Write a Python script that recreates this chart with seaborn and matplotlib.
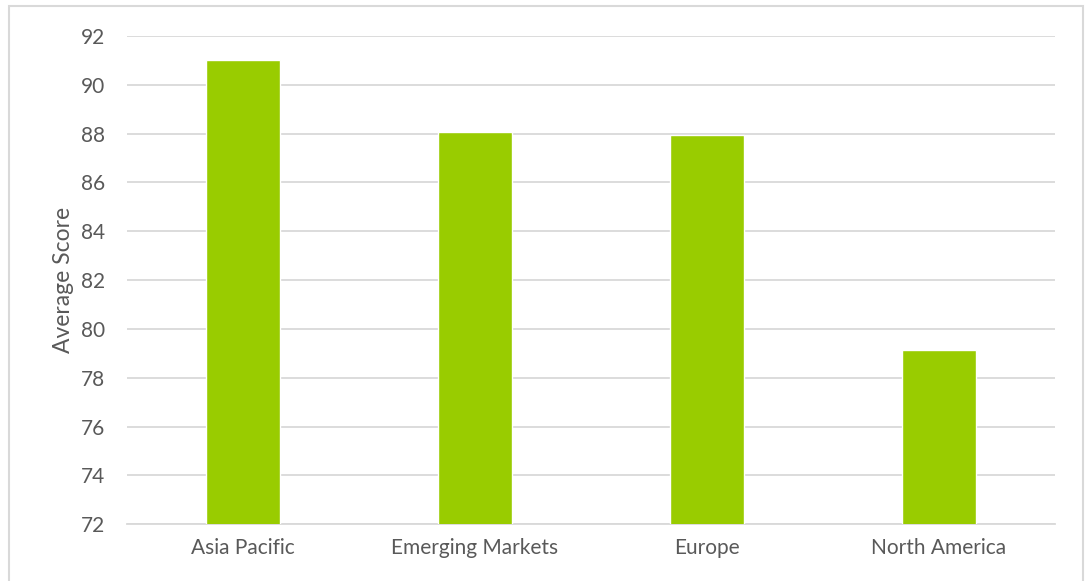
import matplotlib
matplotlib.use("Agg")
import matplotlib.pyplot as plt
from matplotlib.patches import Rectangle
import seaborn as sns
import pandas as pd

regions = ["Asia Pacific", "Emerging Markets", "Europe", "North America"]
avg_scores = [91.03, 88.07, 87.95, 79.14]
y_ticks = [72, 74, 76, 78, 80, 82, 84, 86, 88, 90, 92]

sns.set_theme(style="white")
plt.rcParams["font.family"] = ["Lato", "DejaVu Sans"]

df = pd.DataFrame({"Region": regions, "Average Score": avg_scores})

fig = plt.figure(figsize=(10.85, 5.81), dpi=100)
ax = fig.add_axes([127 / 1085, 1 - 524.3 / 581, 928 / 1085, (524.3 - 36) / 581])

sns.barplot(data=df, x="Region", y="Average Score", color="#99CC00",
            saturation=1, width=0.315, ax=ax, zorder=3)

ax.set_ylim(72, 92)
ax.set_yticks(y_ticks)
ax.set_xlim(-0.5, len(regions) - 0.5)
ax.yaxis.grid(True, color="#d9d9d9", linewidth=1.3, zorder=0)
ax.set_axisbelow(True)
for side in ["top", "right", "left"]:
    ax.spines[side].set_visible(False)
ax.spines["bottom"].set_color("#d9d9d9")
ax.spines["bottom"].set_linewidth(1.3)

text_color = "#595959"
ax.tick_params(axis="both", length=0, labelsize=15, labelcolor=text_color)
ax.tick_params(axis="y", pad=16)
ax.tick_params(axis="x", pad=10)
ax.set_xlabel("")
ax.set_ylabel("Average Score", fontsize=16.5, color=text_color, labelpad=5)

# light frame around the whole chart
fig.patches.append(Rectangle((9 / 1085, -0.01), (1083 - 9) / 1085, 1 - 6 / 581 + 0.01,
                             transform=fig.transFigure, fill=False,
                             edgecolor="#d9d9d9", linewidth=1.5))

fig.savefig("out.png", dpi=100, facecolor="white")
